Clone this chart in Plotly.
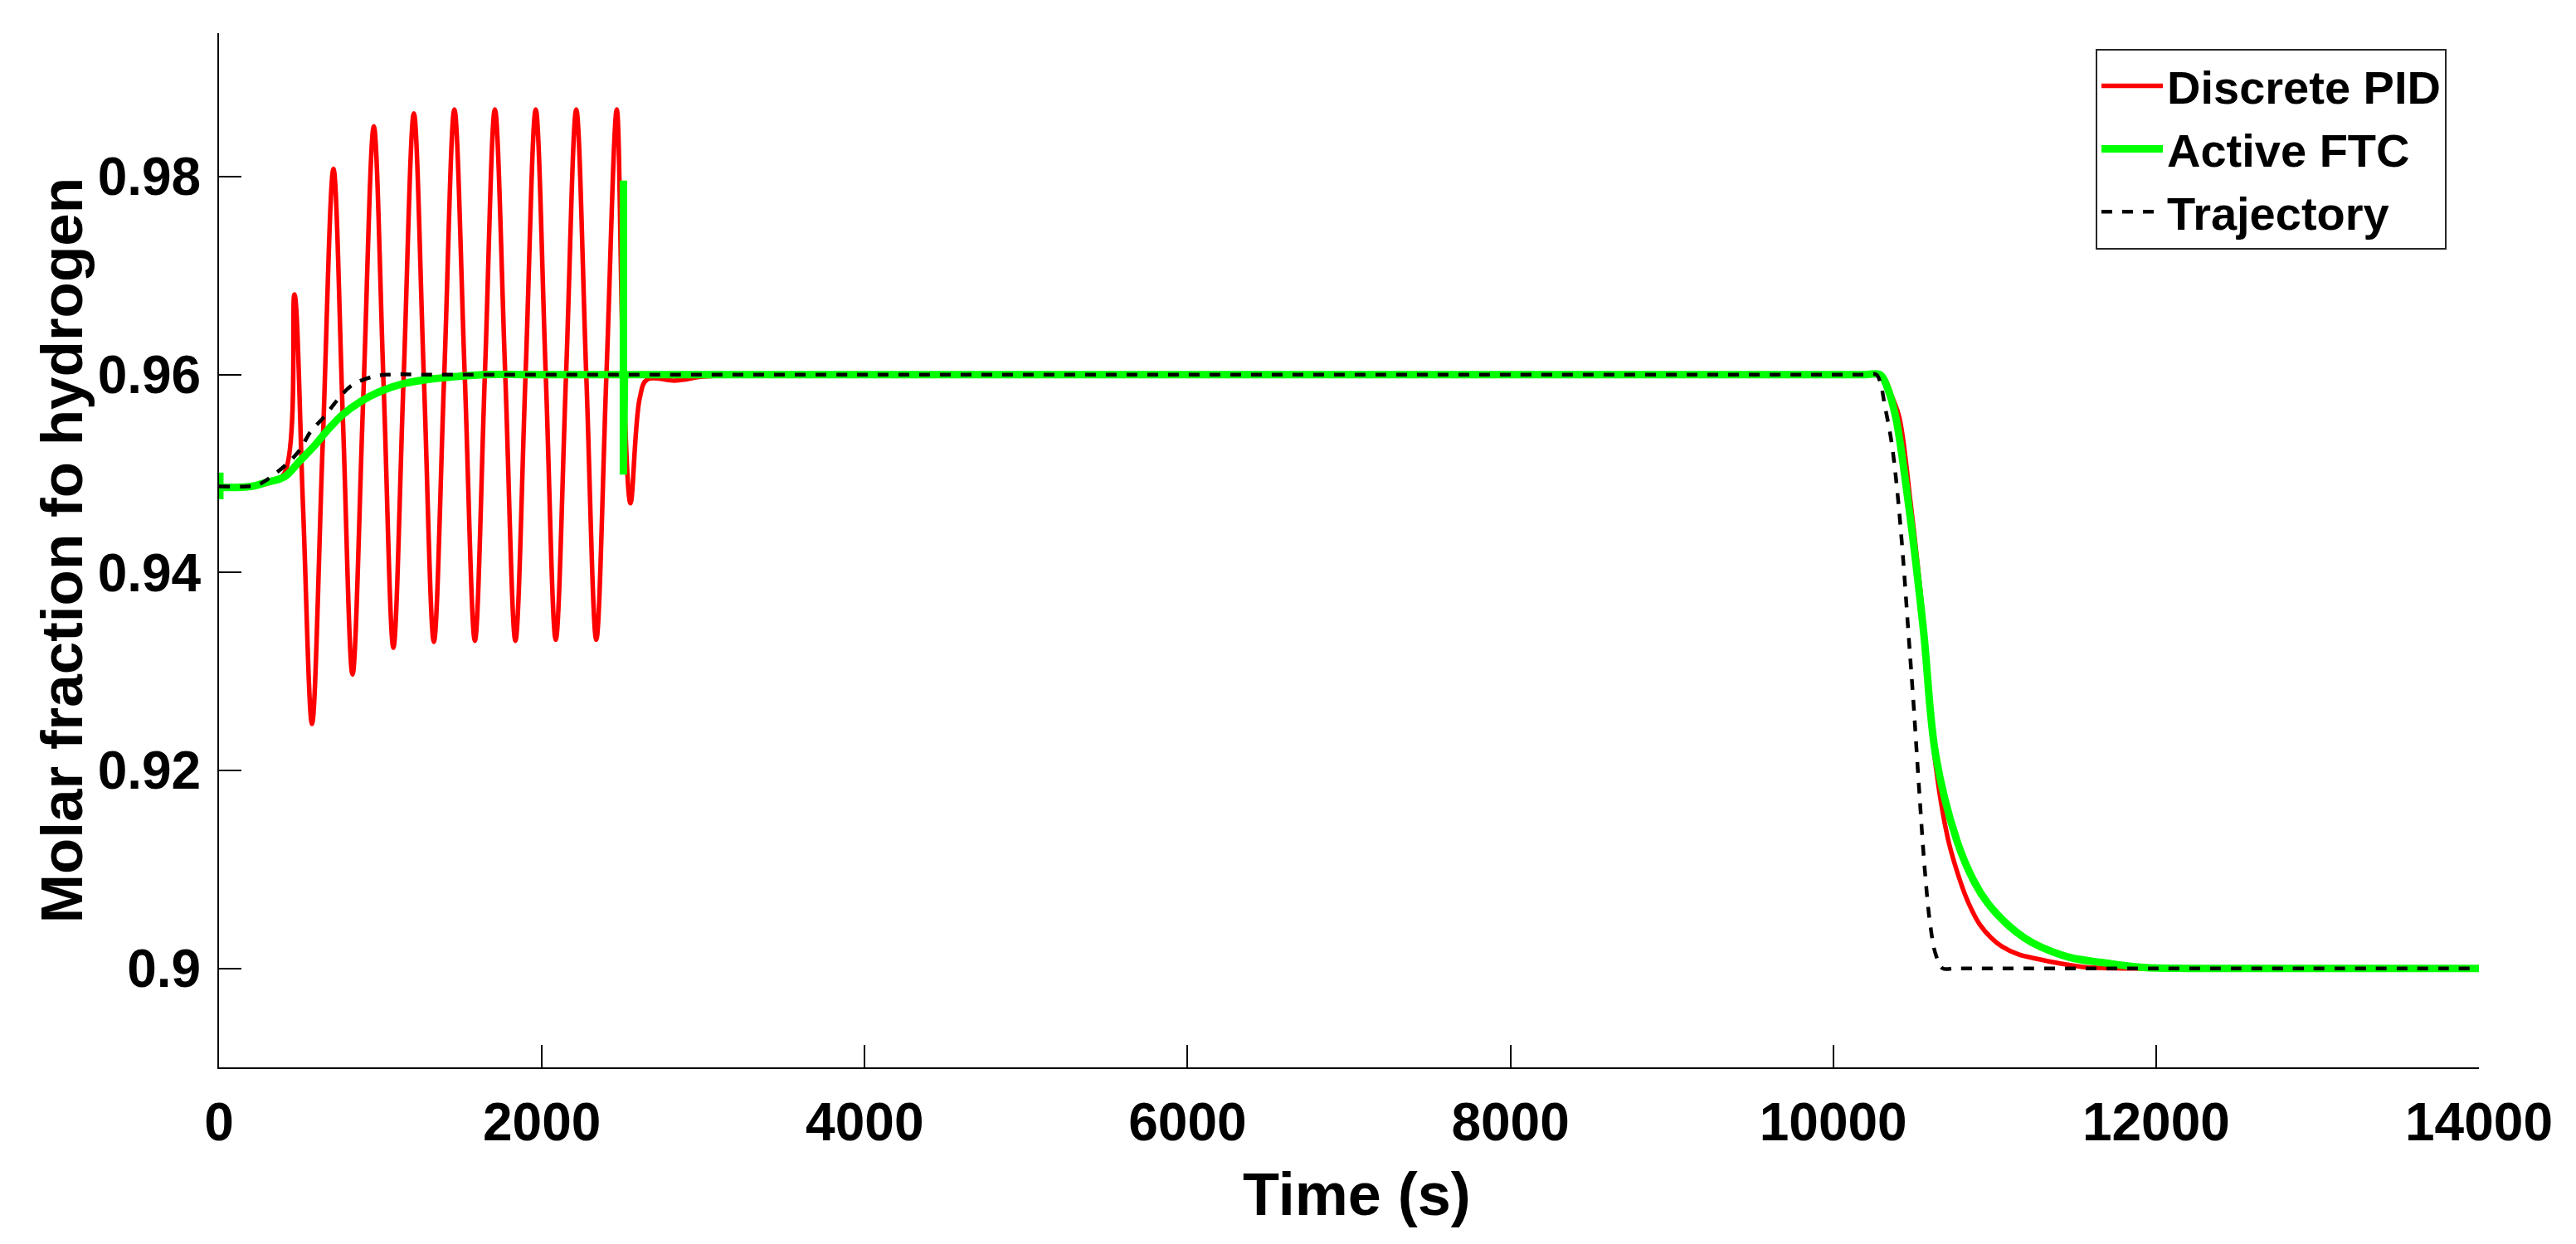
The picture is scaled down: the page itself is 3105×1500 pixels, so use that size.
import plotly.graph_objects as go

# ---------------- data ----------------
pid_t = [0, 200, 300, 404, 467, 521, 576, 642, 709, 768, 827, 893, 959, 1020, 1080,
         1143, 1207, 1269, 1331, 1395, 1458, 1522, 1585, 1647, 1709, 1773, 1836,
         1899, 1962, 2024, 2086, 2150, 2213, 2275, 2337, 2400, 2464, 2505, 2549,
         2606, 2652, 2830, 3000, 3300, 4000, 6000, 8000, 10000, 10200, 10280, 10318,
         10361, 10409, 10478, 10563, 10627, 10712, 10789, 10841, 10909, 10978, 11046,
         11149, 11252, 11406, 11577, 11800, 12200, 13000, 14000]
pid_y = [0.9487, 0.9487, 0.9490, 0.9500, 0.9681, 0.9464, 0.9247, 0.9528, 0.9808,
         0.9552, 0.9297, 0.9574, 0.9851, 0.9587, 0.9324, 0.9594, 0.9864, 0.9597,
         0.9330, 0.9599, 0.9868, 0.9600, 0.9331, 0.9600, 0.9868, 0.9600, 0.9331,
         0.9600, 0.9868, 0.9600, 0.9332, 0.9600, 0.9868, 0.9600, 0.9332, 0.9600,
         0.9868, 0.9600, 0.9470, 0.9576, 0.9595, 0.9594, 0.9598, 0.9600, 0.9600,
         0.9600, 0.9600, 0.9600, 0.9600, 0.9600, 0.9596, 0.9579, 0.9557, 0.9472,
         0.9343, 0.9215, 0.9130, 0.9087, 0.9065, 0.9044, 0.9031, 0.9022, 0.9014,
         0.9010, 0.9005, 0.9001, 0.9000, 0.9000, 0.9000, 0.9000]

ftc_t = [0, 200, 290, 408, 496, 585, 673, 762, 880, 998, 1146, 1293, 1470, 1647,
         1900, 2300, 3000, 4000, 6000, 8000, 10000, 10200, 10290, 10335, 10387,
         10464, 10558, 10635, 10764, 10875, 10961, 11081, 11183, 11269, 11406,
         11492, 11663, 11920, 12200, 12600, 13300, 14000]
ftc_y = [0.9486, 0.9487, 0.9491, 0.9497, 0.9512, 0.9527, 0.9544, 0.9559, 0.9573,
         0.9583, 0.9591, 0.9595, 0.9598, 0.9600, 0.9600, 0.9600, 0.9600, 0.9600,
         0.9600, 0.9600, 0.9600, 0.9600, 0.9600, 0.9587, 0.9557, 0.9472, 0.9343,
         0.9215, 0.9130, 0.9087, 0.9065, 0.9044, 0.9031, 0.9023, 0.9014, 0.9010,
         0.9006, 0.9001, 0.9000, 0.9000, 0.9000, 0.9000]

# short switching transients of the active FTC (start-up and reconfiguration)
ftc_spike0_t = [5, 5]
ftc_spike0_y = [0.9474, 0.9501]
ftc_spike1_t = [2505, 2505, 2505, 2512]
ftc_spike1_y = [0.9600, 0.9796, 0.9499, 0.9600]

traj_t = [0, 172, 231, 290, 408, 496, 570, 650, 732, 821, 954, 1057, 1300, 2000,
          4000, 6000, 8000, 10000, 10200, 10267, 10293, 10318, 10361, 10395, 10430,
          10464, 10498, 10532, 10567, 10601, 10635, 10678, 10750, 10900, 11500,
          12500, 14000]
traj_y = [0.9487, 0.9487, 0.9488, 0.9493, 0.9508, 0.9523, 0.9543, 0.9557, 0.9574,
          0.9589, 0.9598, 0.9600, 0.9600, 0.9600, 0.9600, 0.9600, 0.9600, 0.9600,
          0.9600, 0.9600, 0.9591, 0.9570, 0.9532, 0.9485, 0.9420, 0.9343, 0.9266,
          0.9181, 0.9100, 0.9044, 0.9014, 0.9000, 0.9000, 0.9000, 0.9000, 0.9000,
          0.9000]

x_ticks = [0, 2000, 4000, 6000, 8000, 10000, 12000, 14000]
x_tick_text = ["0", "2000", "4000", "6000", "8000", "10000", "12000", "14000"]
y_ticks = [0.90, 0.92, 0.94, 0.96, 0.98]
y_tick_text = ["0.9", "0.92", "0.94", "0.96", "0.98"]

# ---------------- figure ----------------
FONT = "Liberation Sans, Arial, sans-serif"
RED = "#ff0000"
GREEN = "#00ff00"

fig = go.Figure()
fig.add_trace(go.Scatter(x=pid_t, y=pid_y, mode="lines", name="Discrete PID",
                         line=dict(color=RED, width=5.5, shape="spline", smoothing=1.0)))
fig.add_trace(go.Scatter(x=ftc_t, y=ftc_y, mode="lines", name="Active FTC",
                         legendgroup="ftc",
                         line=dict(color=GREEN, width=9, shape="spline", smoothing=1.0)))
fig.add_trace(go.Scatter(x=ftc_spike0_t, y=ftc_spike0_y, mode="lines", showlegend=False,
                         legendgroup="ftc", line=dict(color=GREEN, width=9)))
fig.add_trace(go.Scatter(x=ftc_spike1_t, y=ftc_spike1_y, mode="lines", showlegend=False,
                         legendgroup="ftc", line=dict(color=GREEN, width=9)))
fig.add_trace(go.Scatter(x=traj_t, y=traj_y, mode="lines", name="Trajectory",
                         line=dict(color="black", width=4.5, dash="13px,12px",
                                   shape="spline", smoothing=1.0)))

fig.update_layout(
    width=3097, height=1492,
    margin=dict(l=256, r=117, t=32, b=213, autoexpand=False),
    paper_bgcolor="white", plot_bgcolor="white",
    font=dict(family=FONT, color="black", size=64, weight="bold"),
    showlegend=True,
    legend=dict(x=0.8304, y=0.985, xanchor="left", yanchor="top",
                bgcolor="white", bordercolor="#262626", borderwidth=2,
                font=dict(family=FONT, size=56, color="black", weight="bold"),
                itemwidth=74, tracegroupgap=0),
    annotations=[
        dict(text="Time (s)", xref="paper", yref="paper", x=0.5035, y=-0.123,
             xanchor="center", yanchor="middle", showarrow=False,
             font=dict(family=FONT, size=72, color="black", weight="bold")),
        dict(text="Molar fraction fo hydrogen", xref="paper", yref="paper",
             x=-0.0695, y=0.5, xanchor="center", yanchor="middle", textangle=-90,
             showarrow=False,
             font=dict(family=FONT, size=71, color="black", weight="bold")),
    ],
)
fig.update_xaxes(range=[0, 14000], tickmode="array", tickvals=x_ticks, ticktext=x_tick_text,
                 ticks="inside", ticklen=27, tickwidth=1.5, tickcolor="black",
                 showline=True, linecolor="black", linewidth=2, mirror=False,
                 showgrid=False, zeroline=False, ticklabelstandoff=9,
                 tickfont=dict(family=FONT, size=64, color="black", weight="bold"))
fig.update_yaxes(range=[0.89, 0.9945], tickmode="array", tickvals=y_ticks, ticktext=y_tick_text,
                 ticks="inside", ticklen=27, tickwidth=1.5, tickcolor="black",
                 showline=True, linecolor="black", linewidth=2, mirror=False,
                 showgrid=False, zeroline=False, ticklabelstandoff=7,
                 tickfont=dict(family=FONT, size=64, color="black", weight="bold"))

fig.write_html("out.html")
